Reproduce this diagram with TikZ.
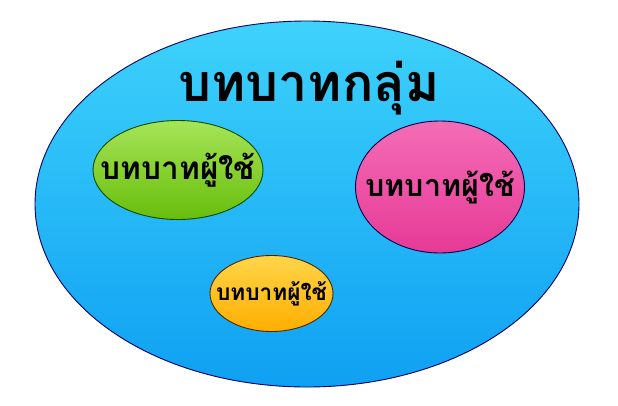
\documentclass[tikz,border=0pt]{standalone}
\usepackage{fontspec}
\newfontfamily\thaifont[Script=Thai]{Loma}
\usetikzlibrary{shapes.geometric,positioning}

\definecolor{groupTop}{HTML}{3ED2FB}
\definecolor{groupBot}{HTML}{0FA0F2}
\definecolor{greenTop}{HTML}{A6E457}
\definecolor{greenBot}{HTML}{68BE0C}
\definecolor{pinkTop}{HTML}{F46CB6}
\definecolor{pinkBot}{HTML}{E63A96}
\definecolor{orangeTop}{HTML}{FFD54A}
\definecolor{orangeBot}{HTML}{FFAE00}

\tikzset{
  rolebox/.style={ellipse,draw=black!70!blue,line width=0.9pt,inner sep=0pt},
  roletext/.style={font=\thaifont\bfseries\fontsize{#1}{#1}\selectfont,text=black,inner sep=0pt},
}

\begin{document}
\begin{tikzpicture}[x=1pt,y=-1pt]
\useasboundingbox (0,0) rectangle (618,405);
\fill[white] (0,0) rectangle (618,405);

\node[rolebox,draw=black!60!blue,top color=groupTop,bottom color=groupBot,
  minimum width=544pt,minimum height=366pt] (group) at (307,204) {};
\node[roletext=52] (title) at (309,88) {บทบาทกลุ่ม};

\node[rolebox,draw=black!70!green,top color=greenTop,bottom color=greenBot,
  minimum width=170pt,minimum height=99pt] (userA) at (178,170) {};
\node[rolebox,top color=pinkTop,bottom color=pinkBot,
  minimum width=169pt,minimum height=132pt] (userB) at (440,187) {};
\node[rolebox,draw=black!70!orange,top color=orangeTop,bottom color=orangeBot,
  minimum width=123pt,minimum height=76pt] (userC) at (271.5,293.5) {};

\node[roletext=31.5] (userAtext) at (userA) {บทบาทผู้ใช้};
\node[roletext=30.5] (userBtext) at (userB) {บทบาทผู้ใช้};
\node[roletext=22.6] (userCtext) at (userC) {บทบาทผู้ใช้};
\end{tikzpicture}
\end{document}
